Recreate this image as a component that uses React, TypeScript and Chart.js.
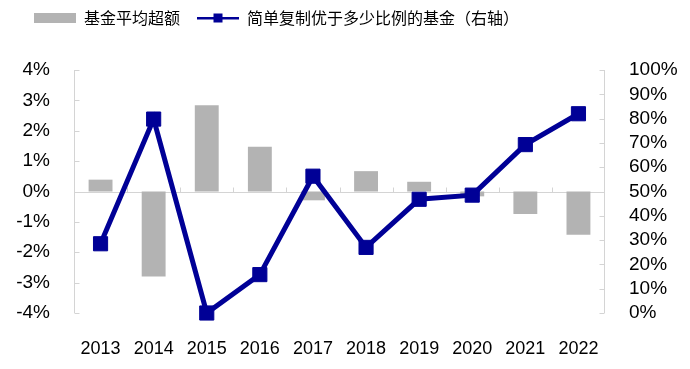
import React, { useEffect, useRef } from "react";
import { Chart, registerables } from "chart.js";

Chart.register(...registerables);

const years = ["2013", "2014", "2015", "2016", "2017", "2018", "2019", "2020", "2021", "2022"];
const avgExcess = [0.39, -2.8, 2.84, 1.47, -0.29, 0.67, 0.32, -0.16, -0.74, -1.42];
const beatShare = [28.5, 79.8, 0, 15.8, 56.3, 27.0, 46.8, 48.5, 69.3, 82.0];
const leftTicks = { min: -4, max: 4, step: 1 };
const rightTicks = { min: 0, max: 100, step: 10 };
const seriesNames = ["基金平均超额", "简单复制优于多少比例的基金（右轴）"];

const BAR_COLOR = "#b3b3b3";
const LINE_COLOR = "#000096";
const AXIS_COLOR = "#d4d4d4";

function makeBarIcon() {
  const c = document.createElement("canvas");
  c.width = 42;
  c.height = 10;
  const ctx = c.getContext("2d")!;
  ctx.fillStyle = BAR_COLOR;
  ctx.fillRect(0, 0, 42, 10);
  return c;
}

function makeLineIcon() {
  const c = document.createElement("canvas");
  c.width = 42;
  c.height = 10;
  const ctx = c.getContext("2d")!;
  ctx.fillStyle = LINE_COLOR;
  ctx.fillRect(0, 4, 42, 2.5);
  ctx.fillRect(16.5, 0.5, 9, 9);
  return c;
}

const axesPlugin = {
  id: "customAxes",
  beforeDatasetsDraw(chart: any) {
    const { ctx, chartArea, scales } = chart;
    const x = scales.x;
    const y = scales.y;
    const y1 = scales.y1;
    ctx.save();
    ctx.strokeStyle = AXIS_COLOR;
    ctx.lineWidth = 1;
    ctx.beginPath();
    const lx = Math.round(chartArea.left) + 0.5;
    ctx.moveTo(lx, chartArea.top);
    ctx.lineTo(lx, chartArea.bottom);
    y.ticks.forEach((t: any) => {
      const py = Math.round(y.getPixelForValue(t.value)) + 0.5;
      ctx.moveTo(lx, py);
      ctx.lineTo(lx + 5, py);
    });
    const rx = Math.round(chartArea.right) - 0.5;
    ctx.moveTo(rx, chartArea.top);
    ctx.lineTo(rx, chartArea.bottom);
    y1.ticks.forEach((t: any) => {
      const py = Math.round(y1.getPixelForValue(t.value)) + 0.5;
      ctx.moveTo(rx, py);
      ctx.lineTo(rx - 5, py);
    });
    const zy = Math.round(y.getPixelForValue(0)) + 0.5;
    ctx.moveTo(chartArea.left, zy);
    ctx.lineTo(chartArea.right, zy);
    const n = x.ticks.length;
    for (let i = 1; i < n; i++) {
      const bx = Math.round((x.getPixelForValue(i - 1) + x.getPixelForValue(i)) / 2) + 0.5;
      ctx.moveTo(bx, zy);
      ctx.lineTo(bx, zy - 5);
    }
    ctx.stroke();
    ctx.restore();
  },
};

export default function App() {
  const canvasRef = useRef<HTMLCanvasElement | null>(null);

  useEffect(() => {
    document.body.style.margin = "0";
    const canvas = canvasRef.current;
    if (!canvas) return;
    const barIcon = makeBarIcon();
    const lineIcon = makeLineIcon();
    const chart = new Chart(canvas, {
      type: "bar",
      data: {
        labels: years,
        datasets: [
          {
            type: "line",
            label: seriesNames[1],
            data: beatShare,
            yAxisID: "y1",
            borderColor: LINE_COLOR,
            backgroundColor: LINE_COLOR,
            borderWidth: 5,
            pointStyle: "rect",
            pointRadius: 10,
            pointBorderWidth: 1,
            pointBackgroundColor: LINE_COLOR,
            pointBorderColor: LINE_COLOR,
            tension: 0,
            order: 0,
            clip: false,
          } as any,
          {
            type: "bar",
            label: seriesNames[0],
            data: avgExcess,
            yAxisID: "y",
            backgroundColor: BAR_COLOR,
            borderWidth: 0,
            categoryPercentage: 0.5,
            barPercentage: 0.9,
            order: 1,
          },
        ],
      },
      options: {
        responsive: false,
        animation: false,
        devicePixelRatio: 1,
        layout: { padding: { top: -7, left: 17, right: 0, bottom: 0 } },
        plugins: {
          tooltip: { enabled: false },
          title: {
            display: true,
            text: " ",
            position: "top",
            weight: 500,
            font: { size: 10, lineHeight: 1.2 },
            padding: { top: 0, bottom: 22 },
          } as any,
          legend: {
            display: true,
            position: "top",
            align: "start",
            labels: {
              usePointStyle: true,
              pointStyleWidth: 42,
              padding: 17,
              color: "#000",
              font: { family: "'Noto Sans CJK SC', sans-serif", size: 16 },
              generateLabels: () => [
                {
                  text: seriesNames[0],
                  pointStyle: barIcon,
                  fillStyle: BAR_COLOR,
                  strokeStyle: BAR_COLOR,
                  lineWidth: 0,
                  hidden: false,
                  datasetIndex: 1,
                  fontColor: "#000",
                } as any,
                {
                  text: seriesNames[1],
                  pointStyle: lineIcon,
                  fillStyle: LINE_COLOR,
                  strokeStyle: LINE_COLOR,
                  lineWidth: 0,
                  hidden: false,
                  datasetIndex: 0,
                  fontColor: "#000",
                } as any,
              ],
            },
          },
        },
        scales: {
          x: {
            type: "category",
            grid: { display: false, drawTicks: false },
            border: { display: false },
            ticks: {
              color: "#000",
              padding: 25,
              maxRotation: 0,
              autoSkip: false,
              font: { family: "'Liberation Sans', Arial, sans-serif", size: 18 },
            },
            afterFit: (s: any) => {
              s.height = 56;
            },
          },
          y: {
            type: "linear",
            position: "left",
            min: leftTicks.min,
            max: leftTicks.max,
            grid: { display: false, drawTicks: false },
            border: { display: false },
            ticks: {
              stepSize: leftTicks.step,
              autoSkip: false,
              color: "#000",
              padding: 24,
              font: { family: "'Liberation Sans', Arial, sans-serif", size: 19 },
              callback: (v: any) => `${v}%`,
            },
            afterFit: (s: any) => {
              s.width = 57;
            },
          },
          y1: {
            type: "linear",
            position: "right",
            min: rightTicks.min,
            max: rightTicks.max,
            grid: { display: false, drawTicks: false },
            border: { display: false },
            ticks: {
              stepSize: rightTicks.step,
              autoSkip: false,
              color: "#000",
              padding: 24,
              font: { family: "'Liberation Sans', Arial, sans-serif", size: 19 },
              callback: (v: any) => `${v}%`,
            },
            afterFit: (s: any) => {
              s.width = 85;
            },
          },
        },
      },
      plugins: [axesPlugin],
    });
    return () => chart.destroy();
  }, []);

  return (
    <div style={{ width: 690, height: 369, position: "relative", background: "#fff" }}>
      <canvas ref={canvasRef} width={690} height={369} style={{ display: "block" }} />
    </div>
  );
}
